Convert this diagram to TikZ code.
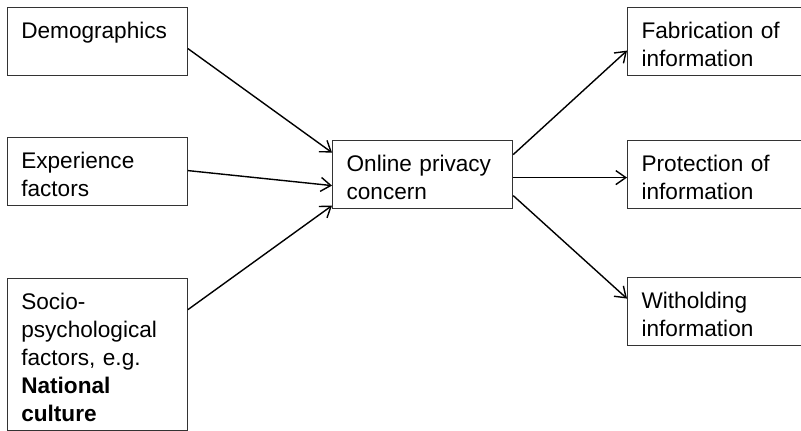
\documentclass[tikz,border=0pt]{standalone}
\usepackage{fontspec}
\setmainfont{Liberation Sans}
\usetikzlibrary{arrows.meta, positioning, calc}
\tikzset{
    box/.style={draw=black!80, line width=0.6pt, anchor=north west, align=left,
      text width=76pt, inner xsep=7pt, inner ysep=0pt,
      text height=15.5pt, text depth=18.5pt,
      font=\fontsize{11.3}{14}\selectfont},
    link/.style={->, line width=0.7pt},
}

\begin{document}
\begin{tikzpicture}[x=0.5pt, y=-0.5pt]
    \tikzset{
      >={Straight Barb[length=5pt, width=7pt]}
    }
    \useasboundingbox (0,0) rectangle (801,431);
    \clip (0,0) rectangle (801,431);

    % causes
    \node[box] (demo) at (6.7,7) {Demographics};
    \node[box] (exp) at (6.7,137) {Experience\\factors};
    \node[box, text depth=60.75pt] (socio) at (6.7,278)
      {Socio-\\psychological\\factors, e.g.\\\textbf{National}\\\textbf{culture}};

    \node[box] (online) at (332,140) {Online privacy\\concern};

    % responses
    \node[box] (fab) at (627,7) {Fabrication of\\information};
    \node[box] (prot) at (627,140) {Protection of\\information};
    \node[box] (with) at (627,277) {Witholding\\information};

    \draw[link] ([yshift=-3.5pt]demo.east) -- ([yshift=11pt]online.west);
    \draw[link] ([yshift=0.5pt]exp.east) -- ([yshift=-5.5pt]online.west);
    \draw[link] ([yshift=22.6pt]socio.east) -- ([yshift=-15.5pt]online.west);

    \draw[link] ([yshift=10pt]online.east) -- ([yshift=-4.5pt]fab.west);
    \draw[link] ([yshift=-1.5pt]online.east) -- ([yshift=-1.5pt]prot.west);
    \draw[link] ([yshift=-10.5pt]online.east) -- ([yshift=6.5pt]with.west);
\end{tikzpicture}
\end{document}
